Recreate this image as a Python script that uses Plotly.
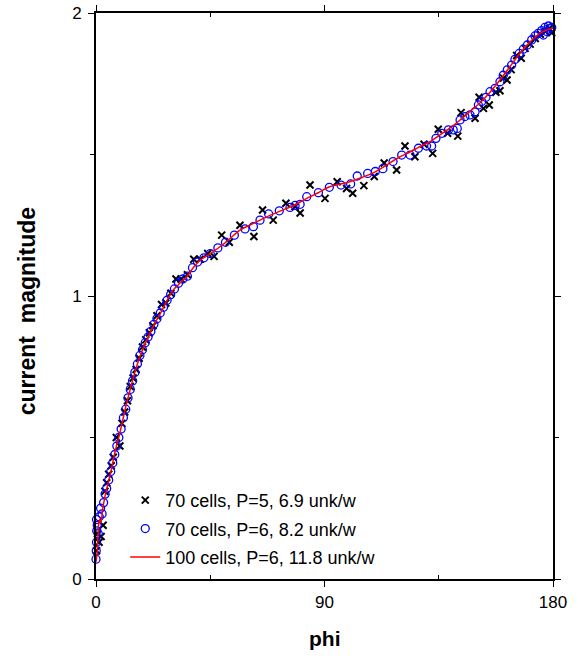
import plotly.graph_objects as go

# ---- data ----
red_phi = [0, 0.5, 1.0, 1.5, 2.0, 2.5, 3.5, 4.5, 6, 7.5, 9.5, 11.5, 13.4, 15.3, 17.3,
           19.3, 21.3, 23.2, 25.2, 27.7, 30.3, 33, 35.7, 38.3, 41, 45, 50, 53, 56.7,
           60.5, 64.6, 68.5, 72.5, 77.5, 83, 87.5, 92, 96, 100, 104.5, 109, 114, 119.7,
           123.5, 127.6, 131.5, 135.5, 139.5, 143.4, 147.3, 151.2, 155.2, 159.1, 163,
           167, 171, 175, 177.5, 180]
red_y = [0.06, 0.10, 0.19, 0.21, 0.20, 0.24, 0.29, 0.33, 0.385, 0.45, 0.52, 0.60, 0.668,
         0.73, 0.786, 0.83, 0.869, 0.905, 0.935, 0.98, 1.02, 1.045, 1.068, 1.10, 1.127,
         1.15, 1.182, 1.205, 1.233, 1.25, 1.268, 1.285, 1.30, 1.318, 1.345, 1.365, 1.386,
         1.395, 1.404, 1.418, 1.434, 1.46, 1.492, 1.508, 1.528, 1.545, 1.569, 1.594,
         1.622, 1.652, 1.682, 1.72, 1.763, 1.81, 1.858, 1.898, 1.929, 1.94, 1.946]

blue_phi = [0.0, 0.1, 0.2, 0.3, 0.2, 0.5, 0.9, 1.3, 1.8, 2.4, 3.0, 3.6, 4.2, 5.0, 5.8,
            6.6, 7.4, 8.2, 9.0, 9.9, 10.8, 11.7, 12.6, 13.5, 14.4, 15.3, 16.3, 17.3,
            18.3, 19.4, 20.5, 21.6, 22.8, 24.0, 25.3, 26.6, 28.0, 29.4, 30.9, 32.5,
            34.2, 36.0, 38.0, 40.0, 42.5, 45.0, 48.0, 51.0, 54.5, 58.7, 62.0, 64.6,
            68.0, 72.2, 76.4, 78.4, 80.4, 83.0, 87.6, 91.9, 96.5, 100.3, 102.9, 107.0,
            110.0, 113.0, 117.0, 120.4, 123.7, 127.0, 130.2, 132.2, 133.9, 136.2,
            138.8, 140.7, 142.3, 143.4, 145.3, 147.3, 149.3, 150.6, 151.9, 153.6,
            155.2, 157.2, 159.1, 160.4, 162.0, 163.7, 165.0, 166.7, 168.3, 169.9,
            171.6, 172.9, 174.2, 175.5, 176.2, 176.8, 177.5, 178.2, 179.0, 179.5]
blue_y = [0.07, 0.10, 0.13, 0.17, 0.21, 0.19, 0.16, 0.22, 0.25, 0.23, 0.27, 0.30, 0.32,
          0.35, 0.38, 0.41, 0.44, 0.47, 0.50, 0.53, 0.57, 0.60, 0.64, 0.67, 0.70, 0.73,
          0.76, 0.79, 0.81, 0.835, 0.855, 0.875, 0.90, 0.92, 0.94, 0.96, 0.985, 1.005,
          1.025, 1.045, 1.06, 1.07, 1.10, 1.12, 1.135, 1.15, 1.17, 1.19, 1.215, 1.237,
          1.245, 1.268, 1.29, 1.301, 1.313, 1.32, 1.324, 1.351, 1.365, 1.384, 1.392,
          1.396, 1.424, 1.433, 1.44, 1.45, 1.475, 1.498, 1.498, 1.522, 1.53, 1.53,
          1.557, 1.575, 1.587, 1.587, 1.592, 1.622, 1.634, 1.64, 1.651, 1.675, 1.687,
          1.702, 1.722, 1.734, 1.757, 1.78, 1.799, 1.816, 1.836, 1.857, 1.872, 1.887,
          1.905, 1.919, 1.928, 1.938, 1.922, 1.949, 1.935, 1.954, 1.945, 1.949]

black_phi = [0.2, 0.6, 1.2, 2.0, 2.8, 3.5, 4.2, 5.0, 6.0, 6.8, 8.0, 9.4, 10.2, 11.3,
             12.4, 13.5, 14.6, 15.8, 17.0, 18.3, 19.6, 21.0, 22.4, 24.0, 25.8, 27.5,
             29.5, 31.5, 33.5, 36.0, 38.5, 41.0, 44.0, 46.5, 49.5, 52.5, 56.7, 62.2,
             65.6, 69.8, 74.8, 78.4, 80.4, 84.3, 90.2, 95.0, 98.7, 101.1, 105.5, 109.6,
             113.5, 118.4, 121.7, 125.6, 129.2, 132.6, 134.8, 138.5, 142.5, 143.8,
             149.3, 150.9, 152.6, 154.9, 157.5, 159.1, 160.5, 161.9, 163.5, 165.7,
             167.5, 169.0, 171.0, 173.0, 175.0, 177.0, 178.5, 179.5]
black_y = [0.10, 0.16, 0.13, 0.15, 0.19, 0.31, 0.34, 0.37, 0.40, 0.43, 0.50, 0.47, 0.55,
           0.59, 0.63, 0.68, 0.71, 0.74, 0.78, 0.82, 0.845, 0.87, 0.895, 0.93, 0.97,
           0.975, 1.01, 1.06, 1.06, 1.075, 1.13, 1.13, 1.15, 1.14, 1.215, 1.19, 1.25,
           1.21, 1.304, 1.268, 1.328, 1.316, 1.293, 1.392, 1.345, 1.404, 1.38, 1.363,
           1.39, 1.422, 1.47, 1.445, 1.53, 1.492, 1.536, 1.504, 1.589, 1.575, 1.565,
           1.648, 1.628, 1.702, 1.663, 1.675, 1.72, 1.725, 1.77, 1.763, 1.80, 1.85,
           1.84, 1.875, 1.89, 1.91, 1.925, 1.935, 1.945, 1.93]

x_ticks = [0, 90, 180]
x_minor = [45, 135]
y_ticks = [0, 1, 2]
y_minor = [0.5, 1.5]

FONT = "Arial, Liberation Sans, Helvetica, sans-serif"

fig = go.Figure()
fig.add_trace(go.Scatter(
    x=black_phi, y=black_y, mode="markers", name="70 cells, P=5, 6.9 unk/w",
    legendgroup="a", cliponaxis=False,
    marker=dict(symbol="x-thin", size=7, line=dict(width=2, color="black"), color="black")))
fig.add_trace(go.Scatter(
    x=blue_phi, y=blue_y, mode="markers", name="70 cells, P=6, 8.2 unk/w",
    legendgroup="b", cliponaxis=False,
    marker=dict(symbol="circle-open", size=8, line=dict(width=1.3, color="#0000ff"),
                color="#0000ff")))
fig.add_trace(go.Scatter(
    x=red_phi, y=red_y, mode="lines", name="100 cells, P=6, 11.8 unk/w",
    legendgroup="c", cliponaxis=False,
    line=dict(color="#ff0000", width=1.5, shape="spline", smoothing=0.6)))

axis_common = dict(showgrid=False, zeroline=False, showline=True, linewidth=2,
                   linecolor="black", mirror="ticks", ticks="outside", ticklen=6,
                   tickwidth=1, tickcolor="black", automargin=False,
                   tickfont=dict(family=FONT, size=17, color="black"))

fig.update_xaxes(range=[0, 180], tickvals=x_ticks, ticktext=[str(v) for v in x_ticks],
                 minor=dict(tickvals=x_minor, ticks="inside", ticklen=4, tickcolor="black"),
                 ticklabelstandoff=1, **axis_common)
fig.update_yaxes(range=[0, 2], tickvals=y_ticks, ticktext=[str(v) for v in y_ticks],
                 minor=dict(tickvals=y_minor, ticks="outside", ticklen=4, tickcolor="black"),
                 ticklabelstandoff=3, **axis_common)

fig.update_layout(
    width=578, height=656,
    margin=dict(l=96, r=25, t=13, b=77, pad=0, autoexpand=False),
    plot_bgcolor="white", paper_bgcolor="white",
    font=dict(family=FONT, color="black"),
    showlegend=True,
    legend=dict(x=0.064, y=0.1715, xanchor="left", yanchor="top",
                bgcolor="rgba(0,0,0,0)", borderwidth=0,
                font=dict(family=FONT, size=18, color="black"),
                traceorder="grouped", tracegroupgap=2),
    annotations=[
        dict(text="<b>phi</b>", x=0.5, y=-0.106, xref="paper", yref="paper",
             xanchor="center", yanchor="middle", showarrow=False,
             font=dict(family=FONT, size=21, color="black")),
        dict(text="<b>current  magnitude</b>", x=-0.151, y=0.473, xref="paper",
             yref="paper", xanchor="center", yanchor="middle", textangle=-90,
             showarrow=False, font=dict(family=FONT, size=23, color="black")),
    ],
)

fig.write_html(
    "out.html",
    config={"displayModeBar": False},
    post_script="document.body.style.margin='0';document.body.style.overflow='hidden';",
)
